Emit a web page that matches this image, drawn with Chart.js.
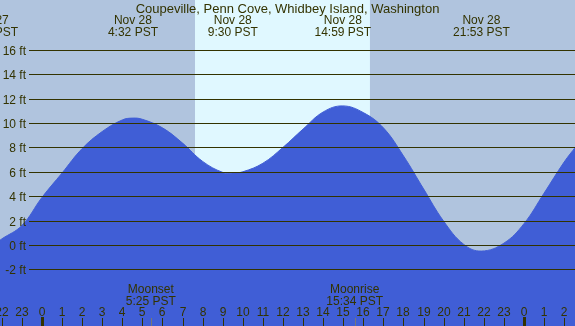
<!DOCTYPE html>
<html>
<head>
<meta charset="utf-8">
<script src="https://cdn.jsdelivr.net/npm/chart.js@4"></script>
<style>
  body { margin: 0; background: #b0c4de; }
  canvas { display: block; }
</style>
</head>
<body>
<canvas id="grafico" width="575" height="326"></canvas>
<script>
const titulo = "Coupeville, Penn Cove, Whidbey Island, Washington";

// hours relative to Nov 28 00:00 PST, tide height in ft
const horas = [-2.6, -2.09, -2, -1, 0, 1, 2, 3, 4, 4.53, 5, 6, 7, 8, 9, 9.5, 10, 11, 12, 13, 14, 14.98, 16, 17, 18, 19, 20, 21, 21.88, 23, 24, 25, 26, 26.6];
const alturas = [0.2, 0.4, 0.5, 1.6, 3.9, 5.9, 7.9, 9.3, 10.25, 10.4, 10.3, 9.6, 8.35, 6.85, 5.95, 5.9, 6.0, 6.7, 8.0, 9.5, 10.9, 11.4, 10.85, 9.6, 7.3, 4.6, 1.95, 0.05, -0.5, 0.15, 1.75, 4.25, 6.8, 8.1];

// high / low labels along the top
const extremosHora = [-2.6, 4.53, 9.5, 14.98, 21.88];
const extremosFecha = ["Nov 27", "Nov 28", "Nov 28", "Nov 28", "Nov 28"];
const extremosTexto = ["21:24 PST", "4:32 PST", "9:30 PST", "14:59 PST", "21:53 PST"];

// daylight (sunrise / sunset)
const dia = [7.62, 16.33];

// moon events
const lunaHora = [5.42, 15.57];
const lunaNombre = ["Moonset", "Moonrise"];
const lunaTexto = ["5:25 PST", "15:34 PST"];

const nivelesFt = [-2, 0, 2, 4, 6, 8, 10, 12, 14, 16];
const horasEje = [];
for (let h = -2; h <= 26; h++) horasEje.push(h);

const colorTexto = "#333300";

const fondo = {
  id: "fondo",
  beforeDatasetsDraw(chart) {
    const { ctx, chartArea: a, scales: { x } } = chart;
    ctx.save();
    ctx.fillStyle = "#b0c4de";
    ctx.fillRect(0, 0, chart.width, chart.height);
    ctx.fillStyle = "#e0f8ff";
    const x1 = x.getPixelForValue(dia[0]);
    const x2 = x.getPixelForValue(dia[1]);
    ctx.fillRect(x1, a.top, x2 - x1, a.bottom - a.top);
    ctx.restore();
  },
  afterDatasetsDraw(chart) {
    const { ctx, scales: { x, y } } = chart;
    ctx.save();
    ctx.font = "12px 'Liberation Sans', Arial, sans-serif";
    ctx.fillStyle = colorTexto;
    ctx.strokeStyle = colorTexto;
    ctx.lineWidth = 1;

    // ft lines
    ctx.textAlign = "right";
    ctx.textBaseline = "middle";
    nivelesFt.forEach(v => {
      const py = Math.round(y.getPixelForValue(v)) + 0.5;
      ctx.beginPath();
      ctx.moveTo(29, py);
      ctx.lineTo(chart.width, py);
      ctx.stroke();
      ctx.fillText(v + " ft", 26, py + 1);
    });

    // hour ticks
    ctx.textAlign = "center";
    horasEje.forEach(h => {
      const px = Math.round(x.getPixelForValue(h));
      const etiqueta = ((h % 24) + 24) % 24;
      ctx.fillText(String(etiqueta), px, 313);
      if (etiqueta === 0) {
        ctx.fillRect(px - 1, 317, 3, 9);
      } else {
        ctx.fillRect(px, 318, 1, 8);
      }
    });

    // moon
    lunaHora.forEach((h, i) => {
      const px = x.getPixelForValue(h);
      ctx.fillStyle = "#777777";
      ctx.fillRect(Math.round(px), 318, 1, 8);
      ctx.fillStyle = colorTexto;
      ctx.fillText(lunaNombre[i], px, 289.5);
      ctx.fillText(lunaTexto[i], px, 301.5);
    });

    // extremes
    extremosHora.forEach((h, i) => {
      const px = x.getPixelForValue(h);
      ctx.fillText(extremosFecha[i], px, 20.5);
      ctx.fillText(extremosTexto[i], px, 32.5);
    });

    ctx.font = "13px 'Liberation Sans', Arial, sans-serif";
    ctx.fillText(titulo, chart.width / 2, 9);
    ctx.restore();
  }
};

const ctx = document.getElementById("grafico").getContext("2d");

new Chart(ctx, {
  type: "line",
  data: {
    datasets: [{
      data: horas.map((h, i) => ({ x: h, y: alturas[i] })),
      fill: "start",
      backgroundColor: "#405ed6",
      borderColor: "#405ed6",
      borderWidth: 1,
      pointRadius: 0,
      tension: 0.4
    }]
  },
  options: {
    responsive: false,
    animation: false,
    devicePixelRatio: 1,
    layout: { padding: 0 },
    plugins: { legend: { display: false }, tooltip: { enabled: false } },
    scales: {
      x: { type: "linear", min: -2.09, max: 26.54, display: false },
      y: { min: -6.64, max: 20.08, display: false }
    }
  },
  plugins: [fondo]
});
</script>
</body>
</html>
